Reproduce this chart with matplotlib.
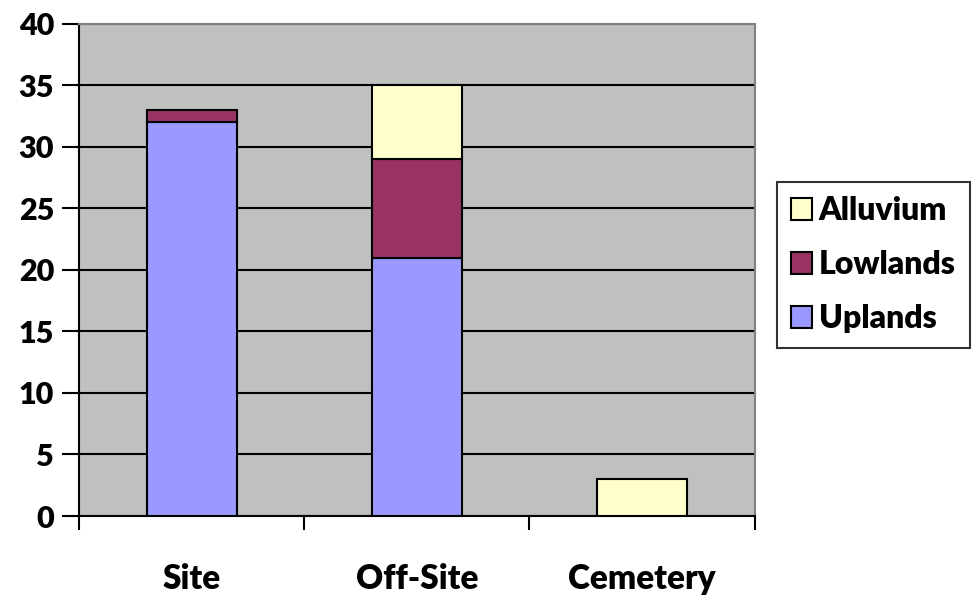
import numpy as np
import matplotlib.pyplot as plt
from matplotlib.patches import Patch

plt.rcParams['font.family'] = ['Lato', 'Open Sans', 'DejaVu Sans']
plt.rcParams['font.weight'] = 'heavy'

# data
categories = ['Site', 'Off-Site', 'Cemetery']
uplands = [32, 21, 0]
lowlands = [1, 8, 0]
alluvium = [0, 6, 3]

colors = {'Uplands': '#9999FF', 'Lowlands': '#993366', 'Alluvium': '#FFFFCC'}

fig = plt.figure(figsize=(9.79, 6.01), dpi=100)
ax = fig.add_axes([0.0807, 0.1414, 0.690, 0.819])
ax.set_facecolor('#C0C0C0')

x = np.arange(len(categories))
w = 0.4
up = np.array(uplands)
lo = np.array(lowlands)
al = np.array(alluvium)

series = [('Uplands', up, 0), ('Lowlands', lo, up), ('Alluvium', al, up + lo)]
for name, vals, bottom in series:
    b = np.zeros(len(vals)) + bottom
    for i in range(len(vals)):
        if vals[i] > 0:
            ax.bar(x[i], vals[i], w, bottom=b[i], color=colors[name],
                   edgecolor='black', linewidth=1.5, zorder=3)

ax.set_xlim(-0.5, 2.5)
ax.set_ylim(0, 40)
ax.set_yticks(np.arange(0, 41, 5))
ax.yaxis.grid(True, color='black', linewidth=1.5, zorder=1)
ax.set_axisbelow(True)

# category boundaries as ticks, labels at centers
ax.set_xticks([-0.5, 0.5, 1.5, 2.5])
ax.set_xticklabels([])
ax.set_xticks(x, minor=True)
ax.set_xticklabels(categories, minor=True)
ax.tick_params(axis='x', which='major', length=10, width=1.5, direction='out')
ax.tick_params(axis='x', which='minor', length=0, pad=34, labelsize=24)
ax.tick_params(axis='y', length=12, width=1.5, labelsize=22, pad=6)

for s in ['top', 'right']:
    ax.spines[s].set_color('#808080')
    ax.spines[s].set_linewidth(1.5)
for s in ['left', 'bottom']:
    ax.spines[s].set_linewidth(1.5)

handles = [Patch(facecolor=colors[n], edgecolor='black', linewidth=1.5, label=n)
           for n in ['Alluvium', 'Lowlands', 'Uplands']]
leg = fig.legend(handles=handles, loc='upper left', bbox_to_anchor=(777 / 979, 1 - 182 / 601),
                 fontsize=23, frameon=True, fancybox=False, edgecolor='black',
                 handlelength=0.65, handleheight=0.65, handletextpad=0.2,
                 labelspacing=0.78, borderpad=0.45, borderaxespad=0)
leg.get_frame().set_linewidth(1.5)

fig.savefig('out.png', dpi=100)
